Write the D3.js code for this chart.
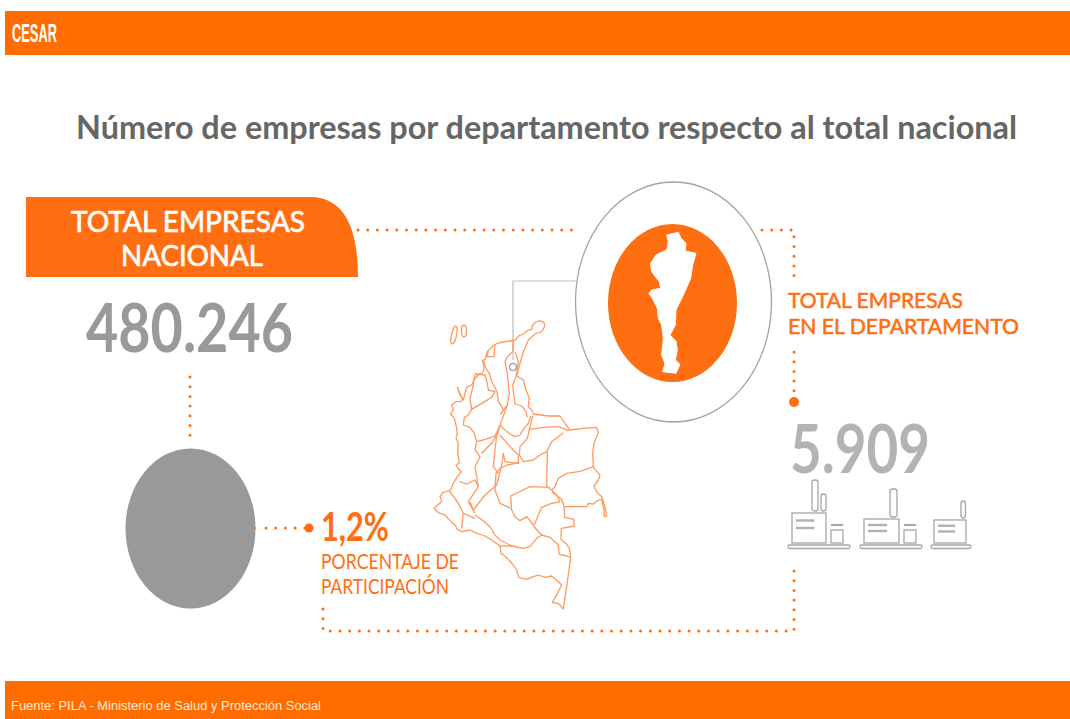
<!DOCTYPE html>
<html>
<head>
<meta charset="utf-8">
<script src="https://cdn.jsdelivr.net/npm/d3@7"></script>
<style>
  html, body { margin: 0; padding: 0; background: #fff; }
  svg { display: block; }
</style>
</head>
<body>
<div id="chart"></div>
<script>
// Values
const departmentName = 'CESAR';
const chartTitle = 'Número de empresas por departamento respecto al total nacional';
const nationalLabel = ['TOTAL EMPRESAS', 'NACIONAL'];
const departmentLabel = ['TOTAL EMPRESAS', 'EN EL DEPARTAMENTO'];
const shareLabel = ['PORCENTAJE DE', 'PARTICIPACIÓN'];
const nationalTotal = '480.246';
const departmentTotal = '5.909';
const shareValue = '1,2%';
const sourceText = 'Fuente: PILA - Ministerio de Salud y Protección Social';

// Colombia outline (trace units, 3 per pixel)
const countryOutline = [[375,48],[372,38],[360,32],[348,36],[338,45],[335,58],[322,62],[310,72],[298,76],[286,90],[268,93],[250,96],[232,100],[222,105],[208,118],[202,125],[195,148],[187,152],[192,170],[190,186],[178,192],[165,205],[155,225],[140,232],[135,250],[130,270],[122,255],[112,232],[118,250],[128,268],[122,275],[108,275],[95,285],[100,298],[92,312],[103,325],[108,345],[112,368],[108,385],[115,400],[113,430],[118,458],[108,465],[116,478],[124,485],[112,500],[100,520],[92,540],[68,548],[60,560],[65,575],[42,595],[55,608],[75,615],[90,632],[105,645],[112,658],[128,665],[150,660],[165,668],[195,678],[215,690],[240,708],[243,730],[262,745],[280,765],[290,780],[296,802],[320,808],[340,800],[355,795],[375,802],[395,798],[410,810],[425,825],[412,850],[397,878],[415,880],[430,897],[440,830],[452,742],[448,715],[440,703],[423,688],[424,655],[462,648],[462,628],[434,622],[432,590],[470,590],[500,590],[505,580],[520,582],[532,572],[545,568],[552,600],[553,620],[560,618],[555,590],[545,560],[530,545],[522,528],[535,510],[540,495],[525,478],[520,470],[518,430],[522,400],[535,368],[530,352],[490,355],[450,360],[435,340],[420,318],[385,318],[340,312],[335,300],[325,290],[328,265],[318,240],[310,210],[290,198],[300,160],[310,125],[325,90],[345,72],[365,65],[375,48]];

// Department borders inside the outline
const departmentBorders = [
  [[280,92],[278,125],[262,140],[255,155],[262,190],[265,225],[268,250],[262,285],[250,318],[240,345],[232,375]],
  [[285,125],[295,155],[288,200],[278,225],[285,282],[305,288],[318,305],[322,322]],
  [[205,122],[200,140],[222,140],[225,103]],
  [[190,150],[198,175],[208,190],[215,215],[225,232],[232,250],[235,272],[250,300],[242,312],[262,285]],
  [[165,192],[195,195],[202,220],[205,240],[225,245],[215,262],[185,280],[155,298],[150,265],[160,225],[165,192]],
  [[155,298],[145,315],[133,322],[130,345],[150,352],[162,368],[170,395],[190,390],[205,385],[225,378],[240,345]],
  [[240,345],[255,360],[270,372],[285,380],[300,375],[312,355],[325,340],[332,318]],
  [[338,318],[328,358],[370,352],[415,350],[447,362]],
  [[328,358],[322,385],[300,410],[298,435],[310,455],[340,450],[360,435],[380,425],[395,395],[430,368]],
  [[382,425],[380,530]],
  [[395,540],[405,530],[415,505],[440,490],[480,484],[520,470]],
  [[298,458],[262,465],[240,475],[228,490],[225,540],[240,580],[272,595]],
  [[390,532],[330,530],[272,558],[275,600],[285,620],[300,632],[320,620],[340,645],[345,640],[365,592],[395,580],[420,575],[410,555],[395,540],[380,530]],
  [[395,545],[425,568],[432,588]],
  [[340,648],[365,675],[390,682],[415,705],[418,733],[440,738],[452,742]],
  [[165,615],[190,632],[210,650],[225,675],[240,690],[275,708],[310,715],[330,710],[350,685],[365,675]],
  [[130,610],[125,655]],
  [[240,708],[280,708]],
  [[88,543],[105,565],[120,590],[130,610],[165,625]],
  [[150,575],[160,600],[195,555],[230,525],[245,465]],
  [[118,515],[140,522],[165,510],[175,530],[145,575],[165,610]],
  [[170,395],[165,420],[180,440],[165,470],[175,530]],
  [[185,430],[215,400],[230,375],[225,420],[220,470],[235,490]],
  [[245,465],[250,430],[255,455],[295,460],[295,435],[270,410],[240,375]]
];

// Cesar silhouette inside the orange ellipse (trace units, 3 per pixel)
const cesarOutline = [[290,180],[325,172],[333,190],[348,205],[345,228],[378,235],[368,270],[362,310],[340,360],[318,405],[316,450],[300,480],[318,498],[322,525],[316,555],[330,568],[318,595],[278,590],[285,565],[275,540],[280,490],[275,450],[265,430],[262,400],[250,375],[237,355],[245,345],[272,340],[268,320],[245,290],[242,265],[258,240],[290,225],[295,200],[290,180]];

const orange = '#ff6f11', barOrange = '#ff6d00';

let w = 1070,
h = 719,
svg = d3.select('#chart').append('svg').attr('width', w).attr('height', h),

// Scales from trace units to page pixels
mapX = d3.scaleLinear().domain([0, 600]).range([420, 620]),
mapY = d3.scaleLinear().domain([0, 930]).range([310, 620]),
cesarX = d3.scaleLinear().domain([0, 720]).range([570, 810]),
cesarY = d3.scaleLinear().domain([0, 765]).range([175, 430]),
mapLine = d3.line().x(d => mapX(d[0])).y(d => mapY(d[1])),
cesarLine = d3.line().x(d => cesarX(d[0])).y(d => cesarY(d[1]));

// Slight softening for the traced map
svg.append('defs').append('filter').attr('id', 'soft').
append('feGaussianBlur').attr('stdDeviation', 0.35);

// Draws a fitted text line, heavy thickens the regular weight a little
const label = (txt, x, y, width, size, fill, weight, family, heavy) => svg.append('text').
  attr('x', x).attr('y', y).
  attr('textLength', width).attr('lengthAdjust', 'spacingAndGlyphs').
  attr('font-family', family || 'Lato').
  attr('font-size', size).attr('font-weight', weight || 400).
  attr('fill', fill).
  attr('stroke', heavy ? fill : 'none').attr('stroke-width', heavy || 0).
  text(txt);

// Dotted connector
const dots = points => svg.append('path').
  attr('d', d3.line()(points)).
  attr('fill', 'none').attr('stroke', orange).attr('stroke-width', 3).
  attr('stroke-linecap', 'round').attr('stroke-dasharray', '0 9.7');

// Top and bottom bars
svg.append('rect').attr('x', 5).attr('y', 11).attr('width', 1065).attr('height', 44).attr('fill', barOrange);
svg.append('rect').attr('x', 5).attr('y', 681).attr('width', 1065).attr('height', 38).attr('fill', barOrange);
label(departmentName, 12, 42, 45, 26, '#fff', 700, '"Liberation Sans"');
label(sourceText, 11, 710, 310, 12, '#ffe9d9', 400, '"Liberation Sans"');

label(chartTitle, 76, 139, 941, 33, '#666666', 700);

// Connectors first, the ring and banner sit on top of them
dots([[358, 230], [575, 230]]);
dots([[762, 230], [794, 230], [794, 285]]);
dots([[794, 352], [794, 398]]);
dots([[794, 571], [794, 631], [323, 631], [323, 609]]);
dots([[190, 377], [190, 438]]);
dots([[266, 528], [305, 528]]);
svg.append('circle').attr('cx', 794).attr('cy', 402).attr('r', 5).attr('fill', orange);
svg.append('circle').attr('cx', 309).attr('cy', 528).attr('r', 4.5).attr('fill', orange);

// Banner with the rounded corner
const banner = d3.path();
banner.moveTo(26, 197);
banner.lineTo(313, 197);
banner.quadraticCurveTo(358, 200, 358, 277);
banner.lineTo(26, 277);
banner.closePath();
svg.append('path').attr('d', banner.toString()).attr('fill', orange);
label(nationalLabel[0], 71, 232, 234, 29, '#fff', 400, null, 0.7);
label(nationalLabel[1], 121, 266, 142, 29, '#fff', 400, null, 0.7);
label(nationalTotal, 86, 352, 207, 67, '#999999', 700);

// National total disc
svg.append('ellipse').attr('cx', 190.5).attr('cy', 528.5).attr('rx', 65).attr('ry', 80).attr('fill', '#999999');
svg.append('circle').attr('cx', 255).attr('cy', 528).attr('r', 1).attr('fill', orange);

label(shareValue, 321, 541, 68, 41, orange, 700);
label(shareLabel[0], 321, 569, 138, 22, orange);
label(shareLabel[1], 321, 594, 128, 22, orange);

// Pointer from the map to the ring
svg.append('path').attr('d', 'M513,360V281H576').attr('fill', 'none').attr('stroke', '#bdbdbd').attr('stroke-width', 1.2);

// Country map
const map = svg.append('g').attr('fill', 'none').attr('stroke', '#ff9a5e').attr('stroke-width', 1.3).
attr('stroke-linejoin', 'round').attr('filter', 'url(#soft)');
map.append('path').attr('d', mapLine(countryOutline));
map.selectAll('.border').data(departmentBorders).join('path').attr('class', 'border').attr('d', mapLine);
// San Andres and Providencia
map.append('ellipse').attr('cx', 454).attr('cy', 335).attr('rx', 2.5).attr('ry', 9).attr('transform', 'rotate(12 454 335)');
map.append('ellipse').attr('cx', 464).attr('cy', 331).attr('rx', 2.5).attr('ry', 6);
svg.append('circle').attr('cx', 513).attr('cy', 367).attr('r', 3.5).attr('fill', '#fff').attr('stroke', '#a6a6a6').attr('stroke-width', 1.6);

// Department ring with the silhouette
svg.append('ellipse').attr('cx', 673.5).attr('cy', 302).attr('rx', 98).attr('ry', 120).attr('fill', '#fff').attr('stroke', '#a3a3a3').attr('stroke-width', 1.3);
svg.append('ellipse').attr('cx', 672.5).attr('cy', 303).attr('rx', 64.5).attr('ry', 79).attr('fill', orange);
svg.append('path').attr('d', cesarLine(cesarOutline)).attr('fill', '#fff').attr('stroke', '#fff').attr('stroke-linejoin', 'round');

label(departmentLabel[0], 788, 308, 175, 22, orange, 400, null, 0.6);
label(departmentLabel[1], 788, 334, 231, 22, orange, 400, null, 0.6);
label(departmentTotal, 790, 473, 140, 67, '#b3b3b3', 700);

// Factory icons
const iconStroke = '#a6a6a6';
const factory = (g, baseX, baseW, hallX, hallW, hallH, boxW, chimneys) => {
  let base = 548;
  g.append('rect').attr('x', baseX).attr('y', base - 3).attr('width', baseW).attr('height', 3.5).attr('rx', 1.75);
  g.append('rect').attr('x', hallX).attr('y', base - 5 - hallH).attr('width', hallW).attr('height', hallH);
  [0.25, 0.5].forEach(k => {
    let ly = base - 5 - hallH * (1 - k);
    g.append('line').attr('x1', hallX + 4).attr('x2', hallX + hallW * 0.66).
    attr('y1', ly).attr('y2', ly).attr('stroke-width', 2.4).attr('stroke', '#b0b0b0');
  });
  if (boxW) {
    g.append('rect').attr('x', hallX + hallW + 5).attr('y', base - 18).attr('width', boxW).attr('height', 13);
    g.append('line').attr('x1', hallX + hallW + 5).attr('x2', hallX + hallW + 5 + boxW).attr('y1', base - 23).attr('y2', base - 23).attr('stroke-width', 2);
  }
  chimneys.forEach(c => {
    g.append('rect').attr('x', c[0]).attr('y', c[1]).attr('width', c[2]).attr('height', base - 5 - hallH - c[1] - 2).attr('rx', 2.5);
  });
};
const icons = svg.append('g').attr('fill', 'none').attr('stroke', iconStroke).attr('stroke-width', 1.3);
factory(icons, 788, 62, 792, 34, 30, 12, [[812, 480, 6], [821, 494, 5]]);
factory(icons, 860, 62, 864, 35, 24, 12, [[890, 489, 7]]);
factory(icons, 931, 40, 934, 32, 23, 0, [[961, 501, 4.5]]);
</script>
</body>
</html>
